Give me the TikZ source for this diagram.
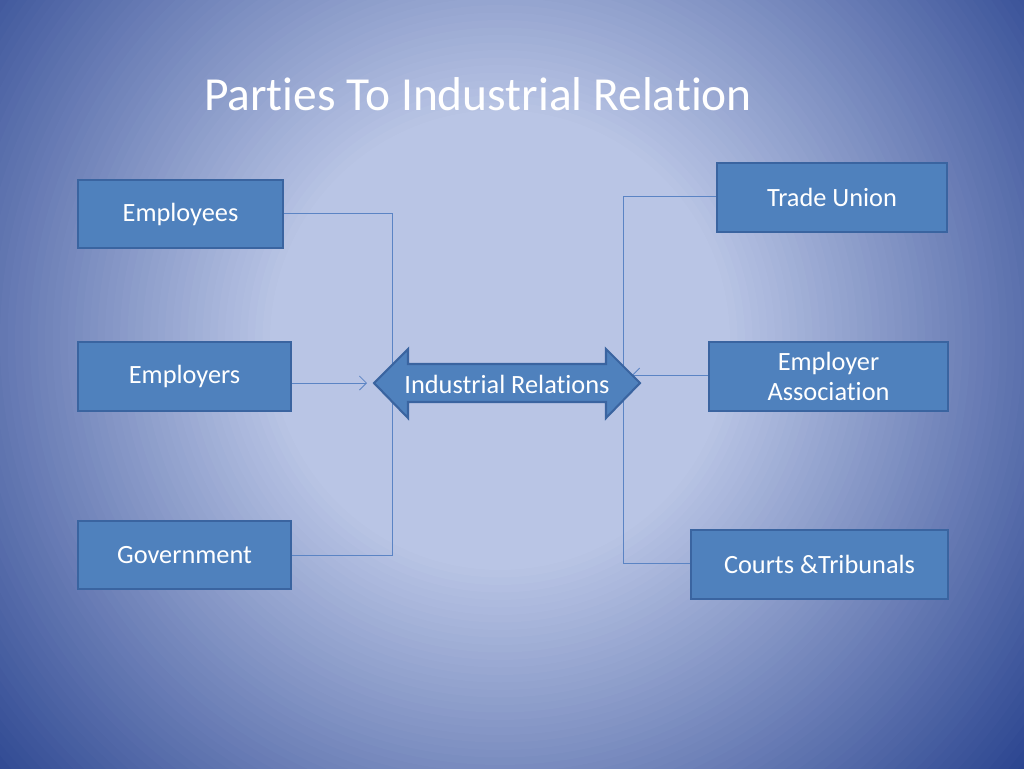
\documentclass[tikz,border=0pt]{standalone}
\usepackage{fontspec}
\setmainfont[Ligatures=NoCommon]{Carlito}
\usetikzlibrary{arrows.meta}
\definecolor{boxblue}{HTML}{4F81BD}
\definecolor{boxedge}{HTML}{3A64A0}
\definecolor{bgin}{HTML}{B9C5E5}
\definecolor{bgout}{HTML}{2B4590}
\definecolor{linkblue}{HTML}{5B84C4}
\tikzset{
  party/.style={draw=boxedge, line width=1.2pt, fill=boxblue, text=white,
    font=\fontsize{15}{17}\selectfont, align=center, anchor=north west},
  link/.style={draw=linkblue, line width=0.5pt},
}
\begin{document}
\begin{tikzpicture}[x=0.02cm,y=-0.02cm]
    \useasboundingbox (0,0) rectangle (1024,768);
    \fill[bgout] (0,0) rectangle (1024,768);
    % background glow
    \foreach \i in {0,...,60}{
        \pgfmathsetmacro{\rad}{680-7.5*\i}
        \pgfmathsetmacro{\mix}{100-100*\i/60}
        \fill[bgout!\mix!bgin] (500,340) circle (\rad);
    }
    \node[text=white, font=\fontsize{27}{32}\selectfont] (title) at (478,94) {Parties To Industrial Relation};
    % parties on the left
    \node[party, minimum width=4.1cm, minimum height=1.36cm] (employees) at (77,179) {Employees};
    \node[party, minimum width=4.26cm, minimum height=1.38cm] (employers) at (77,341) {Employers};
    \node[party, minimum width=4.26cm, minimum height=1.36cm] (government) at (77,520) {Government};
    % parties on the right
    \node[party, minimum width=4.6cm, minimum height=1.38cm] (union) at (716,162) {Trade Union};
    \node[party, minimum width=4.78cm, minimum height=1.38cm] (association) at (708,341) {Employer\\Association};
    \node[party, minimum width=5.14cm, minimum height=1.38cm] (courts) at (690,529) {Courts \&Tribunals};
    % connectors
    \coordinate (lt) at (392,213);
    \coordinate (lb) at (392,555);
    \coordinate (rt) at (623,196);
    \coordinate (rb) at (623,563);
    \coordinate (lin) at (367,383);
    \coordinate (rin) at (632,375);
    \draw[link] (employees.east |- lt) -- (lt) -- (lb) -- (government.east |- lb);
    \draw[link] (union.west |- rt) -- (rt) -- (rb) -- (courts.west |- rb);
    \draw[link, -{Straight Barb[length=4pt,width=8pt]}] (employers.east |- lin) -- (lin);
    \draw[link, -{Straight Barb[length=4pt,width=8pt]}] (association.west |- rin) -- (rin);
    % centre
    \draw[boxedge, line width=1.2pt, fill=boxblue] (374,383) -- (408,349) -- (408,364) -- (606,364)
      -- (606,349) -- (640,383) -- (606,418) -- (606,402) -- (408,402) -- (408,418) -- cycle;
    \node[text=white, font=\fontsize{15}{17}\selectfont] (ir) at (507,384) {Industrial Relations};
\end{tikzpicture}
\end{document}
